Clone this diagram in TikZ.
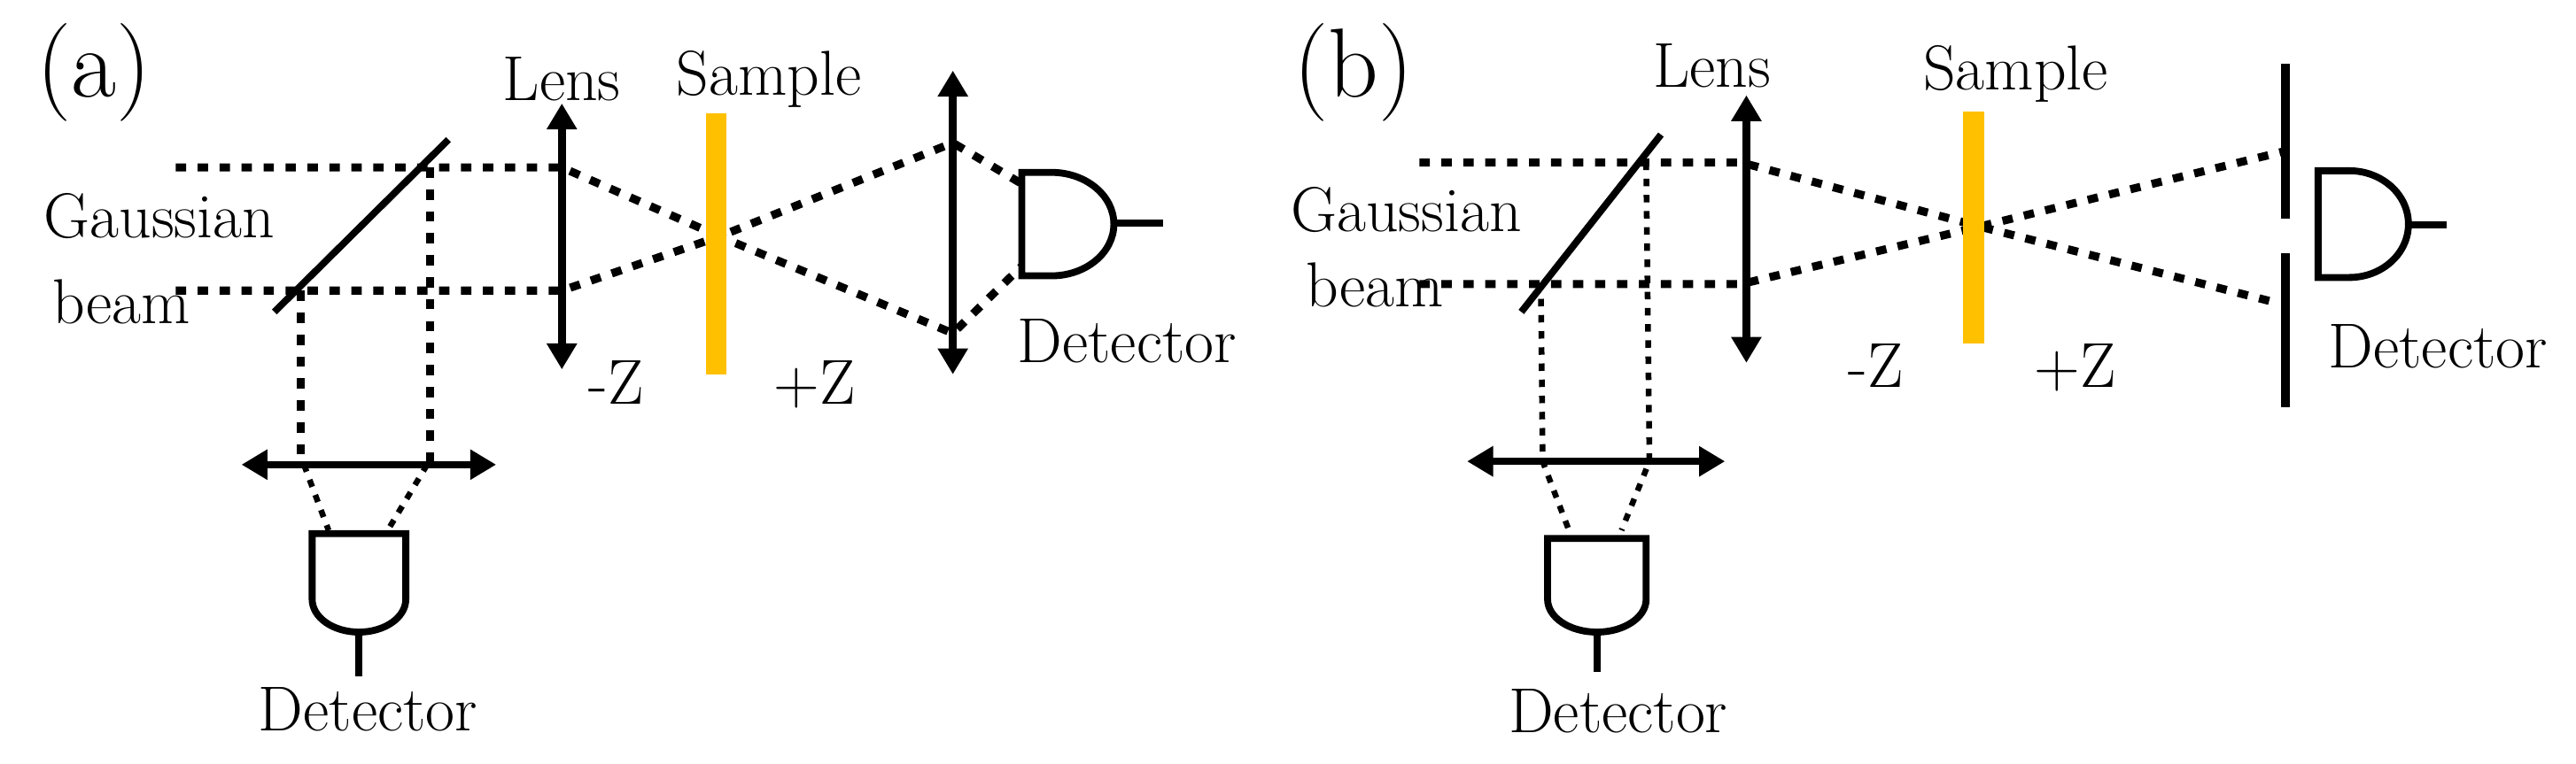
\documentclass[tikz,border=0pt]{standalone}
\usetikzlibrary{arrows.meta}
\definecolor{samp}{HTML}{FFC000}
\begin{document}
\begin{tikzpicture}[x=0.02cm,y=-0.02cm,
  beam/.style={line width=2.8pt,dash pattern=on 3.6pt off 4pt},
  fine/.style={line width=2pt,dash pattern=on 2.6pt off 3pt},
  thick2/.style={line width=2.4pt},
  lens/.style={line width=2.6pt,{Triangle[length=9pt,width=10pt]}-{Triangle[length=9pt,width=10pt]}},
  lbl/.style={font=\fontsize{22}{26}\selectfont,inner sep=0pt,anchor=base},
  big/.style={font=\fontsize{34}{40}\selectfont,inner sep=0pt},
  sample/.style={fill=samp,draw=none}]
\useasboundingbox (0,0) rectangle (1568,465);
% ===== panel a =====
\node[big] (la) at (57,44) {(a)};
\coordinate (a1) at (107,102); \coordinate (a2) at (107,177);
\coordinate (l1t) at (342,102); \coordinate (l1b) at (342,177);
\coordinate (fa) at (438,144);
\coordinate (l2t) at (580,87); \coordinate (l2b) at (580,203);
\coordinate (dat) at (622,112); \coordinate (dab) at (622,162);
\draw[beam] (a1) -- (l1t) -- (fa) -- (l2t) -- (dat);
\draw[beam] (a2) -- (l1b) -- (fa) -- (l2b) -- (dab);
\draw[thick2] (167,190) -- (273,85);
\draw[beam] (183,177) -- (183,283);
\draw[beam] (262,102) -- (262,283);
\draw[fine] (185,283) -- (200,323);
\draw[fine] (260,283) -- (236,323);
\draw[lens] (147,283) -- (302,283);
\draw[lens] (342,63) -- (342,225);
\draw[lens] (580,43) -- (580,228);
\fill[sample] (430,69) rectangle (442,228);
\draw[thick2] (190,325) -- (247,325) -- (247,365) arc[start angle=0,end angle=180,x radius=28.5,y radius=20] -- cycle;
\draw[thick2] (218.5,385) -- (218.5,412);
\draw[thick2] (622,105) -- (640,105) arc[start angle=-90,end angle=90,x radius=38,y radius=31.5] -- (622,168) -- cycle;
\draw[thick2] (678,136) -- (708,136);
\node[lbl] (ga) at (97,145) {Gaussian};
\node[lbl] (ba) at (74,197) {beam};
\node[lbl] (lensa) at (342,61) {Lens};
\node[lbl] (sa) at (468,58) {Sample};
\node[lbl] (mza) at (375,246) {-Z};
\node[lbl] (pza) at (496,246) {+Z};
\node[lbl] (deta) at (686,221) {Detector};
\node[lbl] (detab) at (224,445) {Detector};
% ===== panel b =====
\node[big] (lb) at (824,44) {(b)};
\coordinate (b1) at (864,99); \coordinate (b2) at (864,173);
\coordinate (m1t) at (1060,99); \coordinate (m1b) at (1060,173);
\coordinate (fb) at (1205,138);
\coordinate (apt) at (1391,92); \coordinate (apb) at (1388,185);
\draw[beam] (b1) -- (m1t) -- (fb) -- (apt);
\draw[beam] (b2) -- (m1b) -- (fb) -- (apb);
\draw[thick2] (926,190) -- (1011,82);
\draw[fine] (938,182) -- (939,281) -- (955,323);
\draw[fine] (1002,99) -- (1004,281) -- (987,323);
\draw[lens] (893,281) -- (1050,281);
\draw[lens] (1063,58) -- (1063,221);
\fill[sample] (1195,68) rectangle (1208,209);
\draw[line width=3.2pt] (1391,39) -- (1391,133);
\draw[line width=3.2pt] (1391,154) -- (1391,248);
\draw[thick2] (1411,104) -- (1430,104) arc[start angle=-90,end angle=90,x radius=36,y radius=32.5] -- (1411,169) -- cycle;
\draw[thick2] (1466,137) -- (1489,137);
\draw[thick2] (942,328) -- (1002,328) -- (1002,365) arc[start angle=0,end angle=180,x radius=30,y radius=20] -- cycle;
\draw[thick2] (972,385) -- (972,409);
\node[lbl] (gb) at (856,141) {Gaussian};
\node[lbl] (bb) at (837,187) {beam};
\node[lbl] (lensb) at (1042,53) {Lens};
\node[lbl] (sb) at (1227,55) {Sample};
\node[lbl] (mzb) at (1142,236) {-Z};
\node[lbl] (pzb) at (1263,236) {+Z};
\node[lbl] (detb) at (1484,224) {Detector};
\node[lbl] (detbb) at (985,446) {Detector};
\end{tikzpicture}
\end{document}
